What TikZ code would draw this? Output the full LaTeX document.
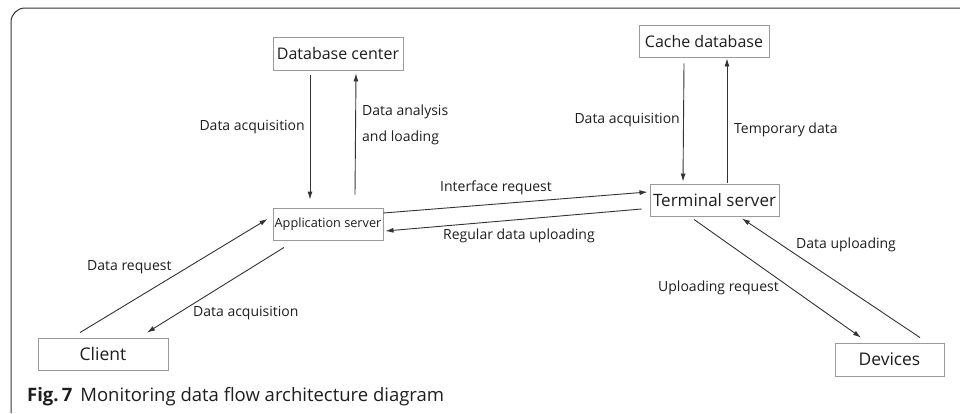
\documentclass[tikz,border=0pt]{standalone}
\usepackage{fontspec}
\setmainfont{Open Sans}
\usetikzlibrary{arrows.meta}
\definecolor{boxgray}{HTML}{9A9A9A}
\definecolor{linegray}{HTML}{333333}
\definecolor{inkblack}{HTML}{1E1E1E}
\tikzset{
  block/.style={draw=boxgray, line width=0.9pt, fill=white, inner sep=0pt,
    text=inkblack, font=\fontsize{16}{19}\selectfont},
  flow/.style={draw=linegray, line width=0.9pt, -{Latex[length=8pt,width=5pt]}},
  lbl/.style={inner sep=0pt, text=inkblack, font=\fontsize{14}{17}\selectfont},
}
\begin{document}
\begin{tikzpicture}[x=1pt,y=-1pt]
  \useasboundingbox (0,0) rectangle (960,413);
  % outer frame, open to the right and below
  \draw[line width=1pt, color=linegray, rounded corners=14pt] (11,413) -- (11,8) -- (975,8);

  % blocks
  \node[block, minimum width=130pt, minimum height=33pt] (db) at (338,53.5) {Database center};
  \node[block, minimum width=130pt, minimum height=32pt] (cache) at (704,41) {Cache database};
  \node[block, minimum width=110pt, minimum height=32pt, font=\fontsize{12.7}{15}\selectfont] (app) at (328,224) {Application server};
  \node[block, minimum width=129pt, minimum height=32pt, font=\fontsize{17}{20}\selectfont] (term) at (714.5,200) {Terminal server};
  \node[block, minimum width=130pt, minimum height=32pt, font=\fontsize{17.5}{20}\selectfont] (client) at (103,354) {Client};
  \node[block, minimum width=109pt, minimum height=33pt, font=\fontsize{17.4}{20}\selectfont] (dev) at (889.5,359.5) {Devices};

  % database center <-> application server
  \draw[flow] ([xshift=-28pt,yshift=-5pt]db.south) -- ([xshift=-18pt,yshift=8pt]app.north);
  \draw[flow] ([xshift=27pt,yshift=13pt]app.north) -- ([xshift=18pt,yshift=-3pt]db.south);
  % cache database <-> terminal server
  \draw[flow] ([xshift=-20pt,yshift=-6pt]cache.south) -- ([xshift=-31.5pt,yshift=2pt]term.north);
  \draw[flow] ([xshift=12.5pt,yshift=1pt]term.north) -- ([xshift=23pt,yshift=-1pt]cache.south);
  % application server <-> terminal server
  \draw[flow] ([yshift=11pt]app.east) -- ([xshift=-2pt,yshift=8pt]term.west);
  \draw[flow] ([xshift=-8pt,yshift=-9pt]term.west) -- ([xshift=2pt,yshift=-7pt]app.east);
  % client <-> application server
  \draw[flow] ([xshift=-23pt,yshift=5pt]client.north) -- ([xshift=-5pt,yshift=5pt]app.west);
  \draw[flow] ([xshift=-44pt,yshift=-7pt]app.south) -- ([xshift=44pt,yshift=5pt]client.north);
  % terminal server <-> devices
  \draw[flow] ([xshift=-20.5pt,yshift=-3pt]term.south) -- ([xshift=-28.5pt,yshift=5pt]dev.north);
  \draw[flow] ([xshift=30.5pt,yshift=5pt]dev.north) -- ([xshift=27.5pt,yshift=-2pt]term.south);

  % connector labels
  \node[lbl, anchor=east] (l1) at (305,127) {Data acquisition};
  \node[lbl, anchor=west, align=left, font=\fontsize{14}{26}\selectfont] (l2) at (362,125) {Data analysis\\and loading};
  \node[lbl, anchor=east] (l3) at (680,120) {Data acquisition};
  \node[lbl, anchor=west] (l4) at (734,130) {Temporary data};
  \node[lbl, anchor=west] (l5) at (440,188) {Interface request};
  \node[lbl, anchor=west] (l6) at (443,236) {Regular data uploading};
  \node[lbl, anchor=west] (l7) at (87,267) {Data request};
  \node[lbl, anchor=west] (l8) at (193,313) {Data acquisition};
  \node[lbl, anchor=west] (l9) at (658,288) {Uploading request};
  \node[lbl, anchor=west] (l10) at (796,245) {Data uploading};

  % caption
  \node[inner sep=0pt, anchor=west, text=inkblack, font=\fontsize{18.5}{22}\selectfont] (cap) at (27,397)
    {\textbf{Fig.\,7}\hspace{8pt}Monitoring data flow architecture diagram};
\end{tikzpicture}
\end{document}
